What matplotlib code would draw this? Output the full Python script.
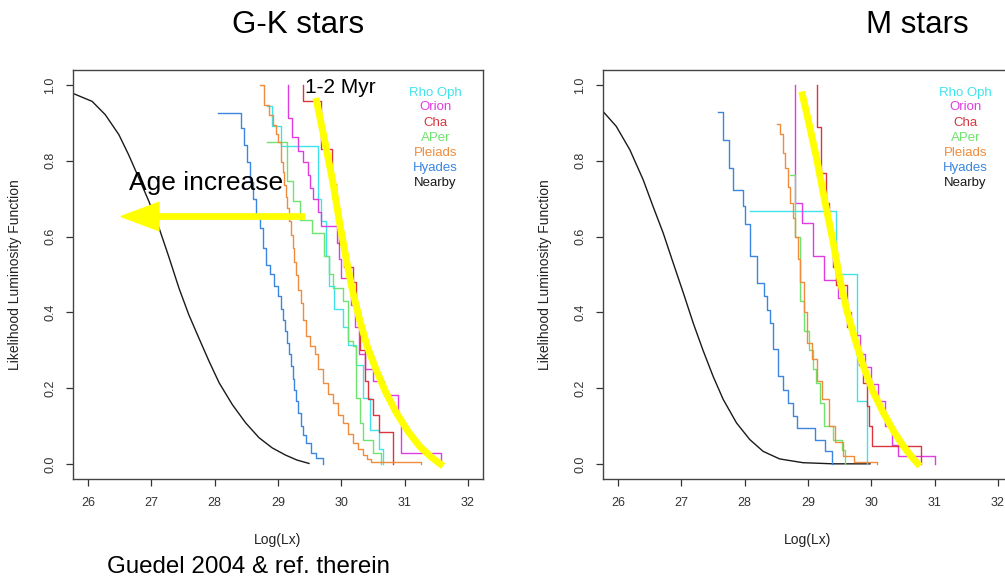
import matplotlib
matplotlib.use("Agg")
import matplotlib.pyplot as plt

plt.rcParams['font.family'] = ['Liberation Sans', 'DejaVu Sans']

# --- colori delle popolazioni ---
names = ["Rho Oph", "Orion", "Cha", "APer", "Pleiads", "Hyades", "Nearby"]
colors = ["#3fe3ec", "#e03ce0", "#d9363e", "#6ee36e", "#f08c3c", "#3a86e0", "#1a1a1a"]

# ===================== G-K stars =====================
gk_rho_x = [28.83, 28.91, 29.05, 29.63, 29.68, 29.76, 29.81, 29.89, 30.02, 30.10, 30.23, 30.34, 30.45, 30.60, 30.66]
gk_rho_y = [0.946, 0.891, 0.838, 0.70, 0.64, 0.55, 0.47, 0.41, 0.36, 0.315, 0.26, 0.175, 0.09, 0.04, 0.0]

gk_ori_x = [29.16, 29.16, 29.22, 29.31, 29.39, 29.47, 29.50, 29.55, 29.63, 29.68, 29.94, 29.97, 30.00,
            30.16, 30.22, 30.28, 30.37, 30.50, 30.68, 30.89, 30.95, 31.58]
gk_ori_y = [1.0, 0.913, 0.864, 0.825, 0.798, 0.763, 0.728, 0.70, 0.666, 0.627, 0.583, 0.54, 0.49,
            0.42, 0.36, 0.29, 0.25, 0.22, 0.183, 0.12, 0.029, 0.0]

gk_cha_x = [29.40, 29.40, 29.68, 29.86, 29.92, 29.97, 30.05, 30.18, 30.24, 30.29, 30.37, 30.42, 30.50, 30.60, 30.81]
gk_cha_y = [1.0, 0.957, 0.83, 0.74, 0.66, 0.58, 0.52, 0.48, 0.40, 0.30, 0.22, 0.17, 0.13, 0.085, 0.0]

gk_aper_x = [28.83, 29.15, 29.24, 29.35, 29.54, 29.73, 29.80, 29.87, 30.02, 30.10, 30.18, 30.23, 30.29, 30.34, 30.50, 30.63]
gk_aper_y = [0.849, 0.746, 0.693, 0.645, 0.61, 0.55, 0.50, 0.464, 0.429, 0.324, 0.31, 0.174, 0.108, 0.064, 0.029, 0.0]

gk_ple_x = [28.71, 28.78, 28.86, 28.92, 28.97, 29.00, 29.05, 29.08, 29.10, 29.13, 29.15, 29.18, 29.21,
            29.24, 29.26, 29.29, 29.32, 29.36, 29.40, 29.44, 29.50, 29.58, 29.64, 29.71, 29.79, 29.87,
            29.95, 30.02, 30.10, 30.18, 30.26, 30.34, 30.40, 30.47, 31.26]
gk_ple_y = [1.0, 0.948, 0.92, 0.895, 0.87, 0.851, 0.798, 0.77, 0.737, 0.705, 0.675, 0.64, 0.605,
            0.57, 0.534, 0.499, 0.46, 0.425, 0.38, 0.337, 0.31, 0.29, 0.25, 0.213, 0.185, 0.16,
            0.13, 0.108, 0.08, 0.055, 0.038, 0.024, 0.012, 0.004, 0.0]

gk_hya_x = [28.05, 28.42, 28.46, 28.51, 28.56, 28.61, 28.66, 28.71, 28.76, 28.81, 28.87, 28.94, 29.00,
            29.05, 29.08, 29.11, 29.14, 29.17, 29.20, 29.23, 29.26, 29.29, 29.32, 29.36, 29.40, 29.44,
            29.52, 29.60, 29.71]
gk_hya_y = [0.926, 0.886, 0.842, 0.798, 0.745, 0.70, 0.657, 0.622, 0.569, 0.525, 0.50, 0.47, 0.442,
            0.41, 0.38, 0.35, 0.319, 0.29, 0.257, 0.225, 0.196, 0.165, 0.134, 0.10, 0.075, 0.055,
            0.029, 0.015, 0.0]

gk_near_x = [25.747, 26.063, 26.27, 26.486, 26.64, 26.80, 26.96, 27.12, 27.28, 27.435, 27.59, 27.75,
             27.91, 28.07, 28.28, 28.49, 28.70, 28.91, 29.12, 29.30, 29.49]
gk_near_y = [0.979, 0.957, 0.922, 0.869, 0.816, 0.755, 0.693, 0.623, 0.544, 0.464, 0.394, 0.332,
             0.271, 0.214, 0.156, 0.108, 0.069, 0.042, 0.023, 0.010, 0.001]

# ===================== M stars =====================
m_rho_x = [28.09, 29.45, 29.78, 29.93]
m_rho_y = [0.667, 0.50, 0.167, 0.0]

m_ori_x = [28.80, 28.80, 28.91, 29.08, 29.26, 29.48, 29.58, 29.68, 29.82, 29.90, 30.00, 30.11, 30.22, 30.32, 30.42, 31.01]
m_ori_y = [1.0, 0.689, 0.636, 0.548, 0.485, 0.437, 0.40, 0.34, 0.29, 0.255, 0.21, 0.165, 0.10, 0.05, 0.02, 0.0]

m_cha_x = [29.14, 29.14, 29.21, 29.29, 29.33, 29.40, 29.45, 29.62, 29.72, 29.80, 29.87, 29.93, 29.97, 30.01, 30.78]
m_cha_y = [1.0, 0.889, 0.767, 0.689, 0.61, 0.52, 0.473, 0.36, 0.31, 0.26, 0.213, 0.152, 0.10, 0.048, 0.0]

m_aper_x = [28.72, 28.80, 28.87, 28.93, 29.01, 29.08, 29.13, 29.19, 29.25, 29.40, 29.53, 29.59]
m_aper_y = [0.763, 0.60, 0.43, 0.35, 0.30, 0.25, 0.213, 0.16, 0.10, 0.064, 0.037, 0.0]

m_ple_x = [28.51, 28.56, 28.61, 28.64, 28.68, 28.72, 28.76, 28.80, 28.84, 28.88, 28.93, 28.99,
           29.06, 29.14, 29.22, 29.33, 29.43, 29.56, 29.72, 30.09]
m_ple_y = [0.897, 0.87, 0.82, 0.78, 0.73, 0.69, 0.65, 0.60, 0.54, 0.48, 0.40, 0.32,
           0.276, 0.22, 0.17, 0.10, 0.057, 0.02, 0.005, 0.0]

m_hya_x = [27.585, 27.65, 27.744, 27.82, 27.97, 28.0, 28.09, 28.20, 28.30, 28.35, 28.40, 28.45,
           28.53, 28.61, 28.69, 28.77, 28.82, 29.11, 29.27, 29.38]
m_hya_y = [0.929, 0.856, 0.781, 0.724, 0.680, 0.632, 0.548, 0.478, 0.442, 0.407, 0.372, 0.302,
           0.231, 0.196, 0.161, 0.126, 0.095, 0.064, 0.033, 0.0]

m_near_x = [25.763, 25.97, 26.185, 26.395, 26.55, 26.71, 26.87, 27.03, 27.185, 27.34, 27.50, 27.66,
            27.87, 28.08, 28.29, 28.55, 28.92, 29.40, 29.98]
m_near_y = [0.930, 0.891, 0.829, 0.75, 0.68, 0.61, 0.53, 0.451, 0.372, 0.30, 0.231, 0.17,
            0.108, 0.064, 0.033, 0.013, 0.003, 0.0, 0.0]

# --- annotazioni gialle (sopra la slide) ---
gk_yellow_x = [29.60, 29.73, 29.87, 29.97, 30.08, 30.18, 30.29, 30.41, 30.55, 30.70, 30.87, 31.05, 31.24, 31.42, 31.61]
gk_yellow_y = [0.966, 0.86, 0.741, 0.64, 0.539, 0.455, 0.381, 0.31, 0.249, 0.19, 0.135, 0.087, 0.046, 0.018, -0.006]
m_yellow_x = [28.90, 29.02, 29.14, 29.27, 29.40, 29.50, 29.61, 29.74, 29.875, 30.03, 30.19, 30.35, 30.51, 30.64, 30.77]
m_yellow_y = [0.983, 0.895, 0.803, 0.69, 0.583, 0.49, 0.407, 0.33, 0.258, 0.19, 0.135, 0.087, 0.046, 0.018, -0.006]

xticks = [26, 27, 28, 29, 30, 31, 32]
yticks = [0.0, 0.2, 0.4, 0.6, 0.8, 1.0]

fig = plt.figure(figsize=(10.05, 5.81), dpi=100)
ax1 = fig.add_axes([0.0726, 0.1756, 0.408, 0.704])
ax2 = fig.add_axes([0.6, 0.1756, 0.408, 0.704])

gk = [(gk_rho_x, gk_rho_y), (gk_ori_x, gk_ori_y), (gk_cha_x, gk_cha_y), (gk_aper_x, gk_aper_y),
      (gk_ple_x, gk_ple_y), (gk_hya_x, gk_hya_y)]
ms = [(m_rho_x, m_rho_y), (m_ori_x, m_ori_y), (m_cha_x, m_cha_y), (m_aper_x, m_aper_y),
      (m_ple_x, m_ple_y), (m_hya_x, m_hya_y)]

for ax, series, near, yel in [(ax1, gk, (gk_near_x, gk_near_y), (gk_yellow_x, gk_yellow_y)),
                              (ax2, ms, (m_near_x, m_near_y), (m_yellow_x, m_yellow_y))]:
    ax.plot(near[0], near[1], color=colors[6], lw=1.0)
    for (xs, ys), c in zip(series, colors[:6]):
        ax.plot(xs, ys, drawstyle='steps-post', color=c, lw=1.0)
    ax.plot(yel[0], yel[1], color='#ffff00', lw=5, solid_capstyle='butt',
            solid_joinstyle='round', zorder=5)

    ax.set_xlim(25.76, 32.24)
    ax.set_ylim(-0.04, 1.04)
    ax.set_xticks(xticks)
    ax.set_yticks(yticks)
    ax.set_xticklabels([str(t) for t in xticks])
    ax.set_yticklabels(["%.1f" % t for t in yticks])
    ax.tick_params(direction='out', length=5, width=0.9, colors='#333333', labelsize=9, pad=8)
    ax.tick_params(axis='y', pad=7)
    for lbl in ax.get_yticklabels():
        lbl.set_rotation(90)
        lbl.set_va('center')
    for s in ax.spines.values():
        s.set_color('#444444')
        s.set_linewidth(1.0)
    ax.set_xlabel("Log(Lx)", fontsize=10, color='#222222')
    ax.set_ylabel("Likelihood Luminosity Function", fontsize=10, color='#222222')
    ax.xaxis.set_label_coords(0.5, -0.132)
    ax.yaxis.set_label_coords(-0.125, 0.5)

    legend_y = [0.98, 0.943, 0.90, 0.861, 0.821, 0.782, 0.742]
    for name, c, ly in zip(names, colors, legend_y):
        ax.text(31.49, ly, name, color=c, fontsize=9.5, ha='center', va='center')

# freccia "Age increase"
ax1.arrow(29.42, 0.653, 26.52 - 29.42, 0.0, width=0.014, head_width=0.075, head_length=0.6,
          length_includes_head=True, color='#ffff00', zorder=6)
ax1.text(26.65, 0.742, "Age increase", fontsize=19, ha='left', va='center', zorder=7)
ax1.text(29.43, 0.993, "1-2 Myr", fontsize=15, ha='left', va='center', zorder=7)

fig.text(298 / 1005, 1 - 25 / 581, "G-K stars", fontsize=22.5, ha='center', va='center')
fig.text(917 / 1005, 1 - 25 / 581, "M stars", fontsize=22.5, ha='center', va='center')
fig.text(248 / 1005, 1 - 567 / 581, "Guedel 2004 & ref. therein", fontsize=17.4, ha='center', va='center')

fig.savefig("out.png", dpi=100)
